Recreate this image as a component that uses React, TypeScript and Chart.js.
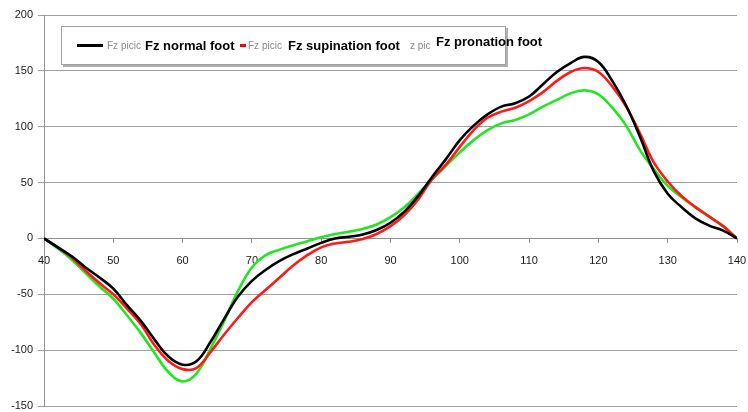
import React, { useEffect, useRef } from "react";
import { Chart, registerables } from "chart.js";

Chart.register(...registerables);

// Gait position (x) and vertical force Fz for each foot type
const positions = [
  40, 42, 44, 46, 48, 50, 52, 54, 56, 58, 60, 62, 64, 66, 68, 70, 72, 74, 76, 78,
  80, 82, 84, 86, 88, 90, 92, 94, 96, 98, 100, 102, 104, 106, 108, 110, 112, 114,
  116, 118, 120, 122, 124, 126, 128, 130, 132, 134, 136, 138, 140,
];

const normalFoot = [
  0, -8, -16, -26, -35, -45, -60, -74, -91, -106, -113, -110, -93, -72, -52, -38,
  -28, -20, -14, -9, -4, 0, 1.5, 3.5, 7.5, 14, 24, 38, 55, 71, 88, 101, 111, 118,
  121, 127, 138, 149, 157, 162.5, 158, 141, 119, 91, 60, 40, 28, 18, 11.5, 7, 0,
];

const supinationFoot = [
  0, -8, -17, -29, -40, -50, -63, -77, -96, -110, -117, -116, -102, -86, -71, -57,
  -46, -35, -24, -15, -8, -4.5, -3, -0.5, 4, 11, 21, 35, 53, 66, 82, 97, 108, 113.5,
  117, 123, 131, 141, 149, 152.5, 149, 136, 118, 94, 68, 51, 38, 28, 19.5, 11, 0,
];

const pronationFoot = [
  0, -9, -19, -31, -43, -54, -69, -85, -103, -120, -128, -121, -99, -74, -47, -26,
  -15, -10, -6, -2.5, 1, 4, 6, 8.5, 12.5, 19, 28, 40, 53, 65, 77, 88, 97, 103, 106,
  111, 118, 124, 130, 132.5, 129, 117, 101, 79, 62, 47, 37, 28, 19.5, 11, 0,
];

const yMin = -150;
const yMax = 200;
const yStep = 50;
const xMin = 40;
const xMax = 140;
const xStep = 10;

const FONT = '"Liberation Sans", Arial, sans-serif';

const legendItems = [
  { color: "#000000", lineFrom: 77, lineTo: 103, tag: "Fz picic", tagX: 107, label: "Fz normal foot", labelX: 145, y: 46 },
  { color: "#ff0000", lineFrom: 240, lineTo: 246, tag: "Fz picic", tagX: 248, label: "Fz supination foot", labelX: 288, y: 46 },
  { color: "#22e622", lineFrom: 0, lineTo: 0, tag: "z pic", tagX: 410, label: "Fz pronation foot", labelX: 436, y: 42 },
];

const legendBox = {
  id: "legendBox",
  afterDraw(chart: Chart) {
    const ctx = chart.ctx;
    ctx.save();
    ctx.fillStyle = "#ffffff";
    ctx.fillRect(62, 27, 443, 37);
    ctx.strokeStyle = "#a0a0a0";
    ctx.lineWidth = 1;
    ctx.strokeRect(61.5, 26.5, 444, 38);
    ctx.strokeStyle = "#b0b0b0";
    ctx.lineWidth = 2;
    ctx.beginPath();
    ctx.moveTo(507, 28);
    ctx.lineTo(507, 66);
    ctx.lineTo(63, 66);
    ctx.stroke();

    ctx.textBaseline = "middle";
    ctx.textAlign = "left";
    for (const item of legendItems) {
      if (item.lineTo > item.lineFrom) {
        ctx.strokeStyle = item.color;
        ctx.lineWidth = 3;
        ctx.beginPath();
        ctx.moveTo(item.lineFrom, 45.5);
        ctx.lineTo(item.lineTo, 45.5);
        ctx.stroke();
      }
      ctx.font = `10px ${FONT}`;
      ctx.fillStyle = "#8a8a8a";
      ctx.fillText(item.tag, item.tagX, 46);
      ctx.font = `bold 13px ${FONT}`;
      ctx.fillStyle = "#000000";
      ctx.fillText(item.label, item.labelX, item.y);
    }
    ctx.restore();
  },
};

const toPoints = (values: number[]) => values.map((v, i) => ({ x: positions[i], y: v }));

export default function App() {
  const canvasRef = useRef<HTMLCanvasElement | null>(null);

  useEffect(() => {
    if (!canvasRef.current) return;
    const chart = new Chart(canvasRef.current, {
      type: "line",
      data: {
        datasets: [
          { label: "Fz normal foot", data: toPoints(normalFoot), borderColor: "#000000", borderWidth: 2.6 },
          { label: "Fz supination foot", data: toPoints(supinationFoot), borderColor: "#ff1a1a", borderWidth: 2.6 },
          { label: "Fz pronation foot", data: toPoints(pronationFoot), borderColor: "#22e622", borderWidth: 2.6 },
        ],
      },
      options: {
        animation: false,
        responsive: true,
        maintainAspectRatio: false,
        layout: { padding: { top: 15, bottom: 6, left: 0, right: 11 } },
        elements: {
          point: { radius: 0, hoverRadius: 0 },
          line: { tension: 0.4, fill: false },
        },
        plugins: { legend: { display: false }, tooltip: { enabled: false } },
        scales: {
          x: {
            type: "linear",
            min: xMin,
            max: xMax,
            position: { y: 0 },
            ticks: {
              stepSize: xStep,
              padding: 12,
              maxRotation: 0,
              color: "#1a1a1a",
              font: { family: FONT, size: 11 },
            },
            grid: { drawOnChartArea: false, drawTicks: true, tickLength: 4, color: "#909090" },
            border: { display: true, color: "#909090", width: 1 },
            afterFit(scale: any) {
              scale.paddingLeft = 0;
              scale.paddingRight = 0;
            },
          },
          y: {
            min: yMin,
            max: yMax,
            ticks: {
              stepSize: yStep,
              padding: 5,
              color: "#1a1a1a",
              font: { family: FONT, size: 11 },
            },
            grid: { color: "#a0a0a0", lineWidth: 1, tickLength: 6 },
            border: { display: true, color: "#909090", width: 1 },
            afterFit(scale: any) {
              scale.width = 44;
              scale.paddingTop = 0;
              scale.paddingBottom = 0;
            },
          },
        },
      },
      plugins: [legendBox],
    });
    return () => chart.destroy();
  }, []);

  return (
    <div style={{ position: "absolute", left: 0, top: 0, width: 748, height: 412, background: "#ffffff" }}>
      <canvas ref={canvasRef} />
    </div>
  );
}
